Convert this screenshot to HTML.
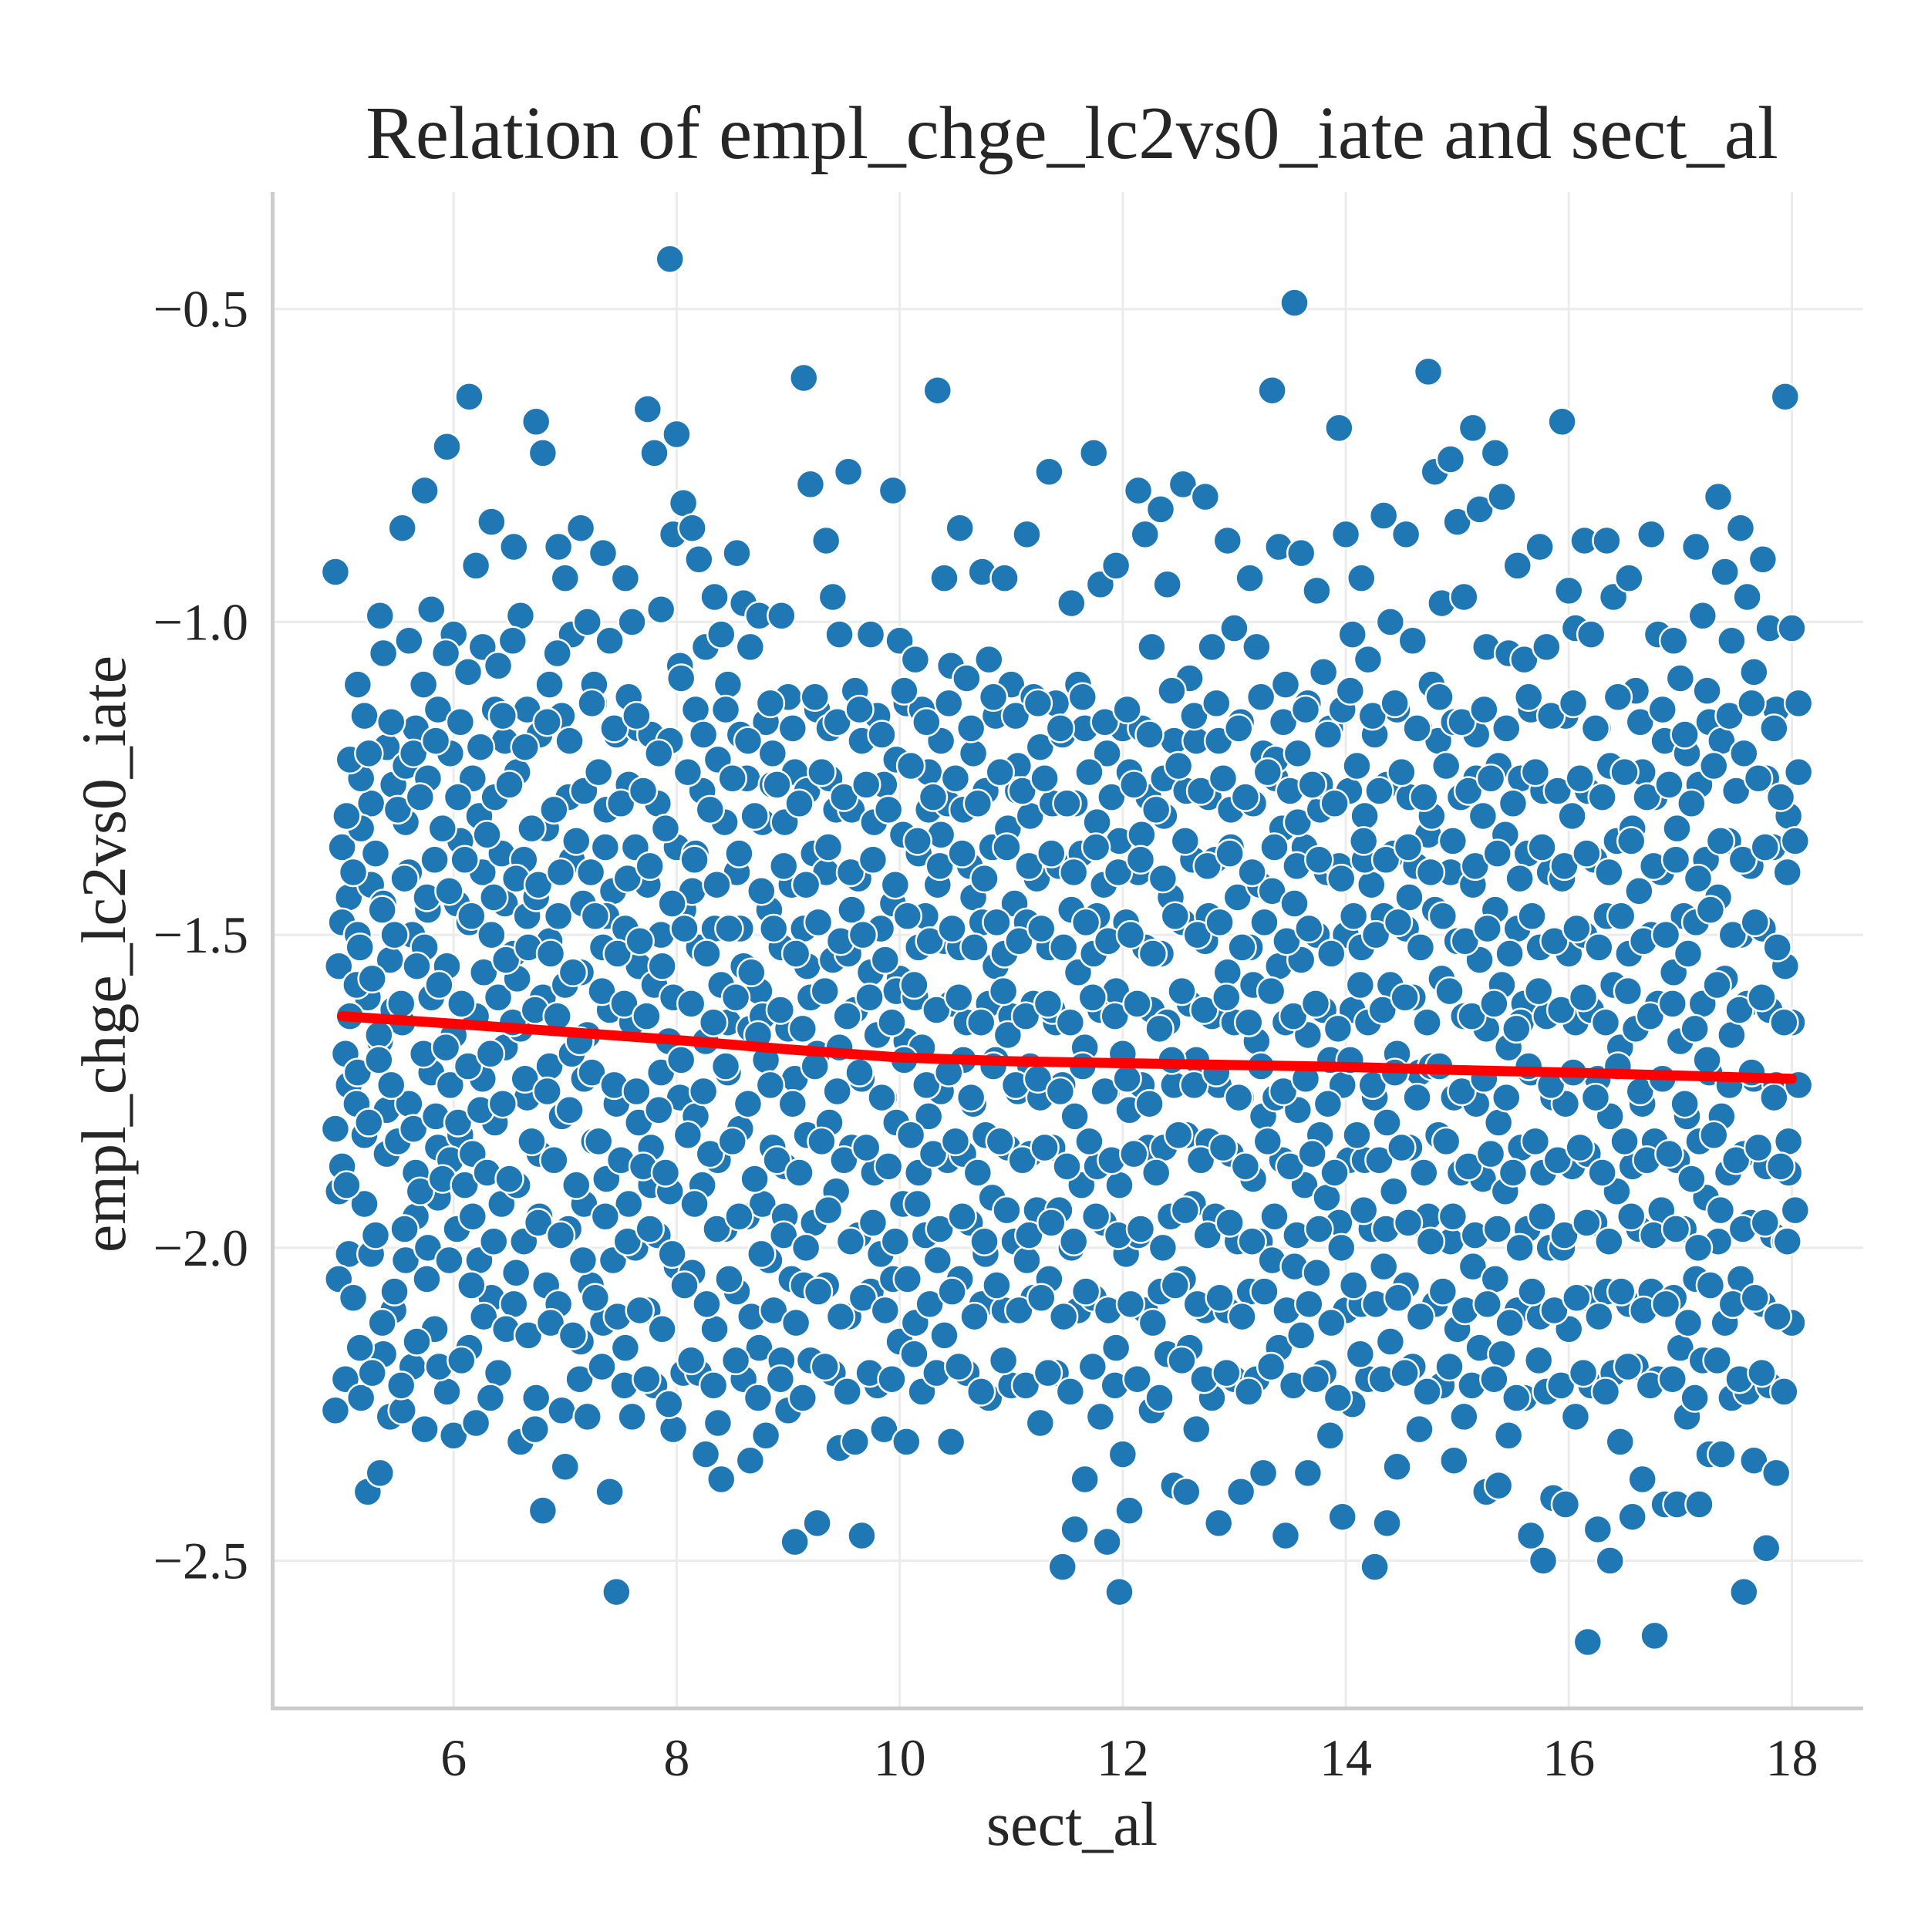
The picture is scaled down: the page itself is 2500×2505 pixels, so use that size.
<!DOCTYPE html>
<html><head><meta charset="utf-8"><style>
html,body{margin:0;padding:0;background:#fff;}
svg text{font-family:"Liberation Serif","Times New Roman",serif;fill:#262626;}
</style></head><body>
<svg id="chart" width="2500" height="2500" viewBox="0 0 2500 2500" xmlns="http://www.w3.org/2000/svg">
<rect width="2500" height="2500" fill="#fff"/>
<g id="grid"></g>
<g id="points"></g>
<g id="trend"></g>
<g id="axes"></g>
<text x="1390" y="205" font-size="97" text-anchor="middle">Relation of empl_chge_lc2vs0_iate and sect_al</text>
<text x="1390" y="2392" font-size="80" text-anchor="middle">sect_al</text>
<text x="0" y="0" font-size="82" text-anchor="middle" transform="translate(162,1237) rotate(-90)">empl_chge_lc2vs0_iate</text>
</svg>
<script>
const xTicks=[6,8,10,12,14,16,18];
const xTickLabels=["6","8","10","12","14","16","18"];
const yTicks=[-0.5,-1.0,-1.5,-2.0,-2.5];
const yTickLabels=["\u22120.5","\u22121.0","\u22121.5","\u22122.0","\u22122.5"];
const colX=[5.0,5.2,5.4,5.6,5.8,6.0,6.2,6.4,6.6,6.8,7.0,7.2,7.4,7.6,7.8,8.0,8.2,8.4,8.6,8.8,9.0,9.2,9.4,9.6,9.8,10.0,10.2,10.4,10.6,10.8,11.0,11.2,11.4,11.6,11.8,12.0,12.2,12.4,12.6,12.8,13.0,13.2,13.4,13.6,13.8,14.0,14.2,14.4,14.6,14.8,15.0,15.2,15.4,15.6,15.8,16.0,16.2,16.4,16.6,16.8,17.0,17.2,17.4,17.6,17.8,18.0];
const colY=[
[-0.92,-1.36,-1.44,-1.55,-1.69,-1.81,-1.87,-2.01,-2.05,-2.21,-2.26,-1.48,-1.74,-1.91],
[-1.10,-1.15,-1.29,-1.33,-1.60,-1.72,-1.82,-2.01,-2.24,-2.39,-1.50,-1.93,-1.42,-1.25],
[-0.99,-1.20,-1.26,-1.45,-1.54,-1.67,-1.78,-2.10,-2.17,-2.27,-2.36,-1.85,-1.62,-1.05],
[-0.85,-1.03,-1.17,-1.32,-1.50,-1.64,-1.77,-1.95,-2.02,-2.19,-2.26,-1.40,-1.88,-1.23],
[-0.79,-0.98,-1.14,-1.25,-1.38,-1.52,-1.72,-1.84,-2.00,-2.13,-2.29,-1.60,-1.92,-1.46],
[-0.72,-1.02,-1.16,-1.21,-1.45,-1.55,-1.66,-1.82,-1.86,-1.97,-2.23,-2.30,-1.35,-1.74],
[-0.64,-0.91,-1.04,-1.25,-1.31,-1.48,-1.63,-1.73,-1.85,-2.02,-2.16,-2.28,-1.40,-1.95],
[-0.84,-1.07,-1.19,-1.28,-1.37,-1.50,-1.60,-1.68,-1.80,-1.93,-2.08,-2.20,-1.45,-1.14],
[-0.88,-0.99,-1.14,-1.24,-1.38,-1.53,-1.65,-1.76,-1.90,-1.99,-2.09,-2.31,-1.47,-1.57],
[-0.68,-0.73,-1.10,-1.18,-1.33,-1.44,-1.60,-1.71,-1.85,-2.06,-2.24,-2.42,-1.51,-1.95],
[-0.88,-0.93,-1.02,-1.15,-1.28,-1.47,-1.58,-1.69,-1.79,-1.97,-2.09,-2.35,-1.38,-2.26],
[-0.85,-1.00,-1.13,-1.27,-1.40,-1.56,-1.66,-1.83,-1.93,-2.06,-2.15,-2.27,-1.10,-1.73],
[-0.89,-1.03,-1.18,-1.30,-1.43,-1.52,-1.62,-1.77,-1.89,-2.02,-2.12,-2.39,-2.55,-1.47],
[-0.93,-1.00,-1.17,-1.26,-1.36,-1.49,-1.64,-1.80,-1.93,-2.00,-2.16,-2.27,-1.55,-1.12],
[-0.66,-0.73,-0.98,-1.18,-1.29,-1.42,-1.58,-1.72,-1.84,-1.98,-2.10,-2.22,-1.50,-1.90],
[-0.42,-0.70,-0.81,-0.86,-1.07,-1.19,-1.36,-1.46,-1.60,-1.76,-1.91,-2.03,-2.20,-2.29],
[-0.85,-0.90,-1.04,-1.14,-1.27,-1.43,-1.52,-1.67,-1.79,-1.90,-2.04,-2.20,-2.33,-1.37],
[-0.96,-1.02,-1.10,-1.22,-1.32,-1.49,-1.58,-1.72,-1.86,-1.97,-2.13,-2.37,-1.64,-2.28],
[-0.89,-0.97,-1.04,-1.18,-1.25,-1.40,-1.55,-1.65,-1.81,-1.95,-2.07,-2.21,-2.34,-1.49],
[-0.99,-1.16,-1.21,-1.32,-1.46,-1.59,-1.70,-1.84,-1.93,-2.02,-2.16,-2.30,-1.26,-1.63],
[-0.99,-1.12,-1.24,-1.32,-1.42,-1.52,-1.65,-1.73,-1.87,-2.05,-2.18,-2.26,-2.47,-1.95],
[-0.61,-0.78,-1.14,-1.27,-1.37,-1.49,-1.60,-1.69,-1.82,-1.96,-2.06,-2.18,-2.44,-1.55],
[-0.87,-0.96,-1.02,-1.17,-1.30,-1.40,-1.54,-1.68,-1.80,-1.91,-2.06,-2.20,-2.32,-1.25],
[-0.76,-1.11,-1.19,-1.30,-1.41,-1.53,-1.62,-1.73,-1.84,-1.98,-2.11,-2.31,-2.46,-1.46],
[-1.02,-1.15,-1.26,-1.38,-1.49,-1.56,-1.66,-1.76,-1.88,-2.01,-2.07,-2.22,-2.29,-1.32],
[-0.79,-1.03,-1.13,-1.22,-1.34,-1.45,-1.57,-1.67,-1.80,-1.93,-2.05,-2.15,-2.31,-1.59],
[-1.06,-1.14,-1.24,-1.37,-1.47,-1.60,-1.68,-1.79,-1.88,-1.98,-2.12,-2.23,-1.30,-1.52],
[-0.63,-0.93,-1.07,-1.19,-1.29,-1.42,-1.51,-1.61,-1.75,-1.86,-2.02,-2.14,-2.31,-1.34],
[-0.85,-1.09,-1.21,-1.30,-1.39,-1.52,-1.64,-1.77,-1.85,-1.96,-2.05,-2.20,-1.44,-1.70],
[-0.92,-1.06,-1.15,-1.27,-1.36,-1.48,-1.61,-1.70,-1.82,-1.92,-2.09,-2.24,-1.55,-2.01],
[-0.93,-1.10,-1.23,-1.33,-1.45,-1.53,-1.63,-1.75,-1.84,-1.99,-2.10,-2.22,-1.27,-1.66],
[-0.86,-1.12,-1.20,-1.31,-1.41,-1.48,-1.61,-1.76,-1.85,-1.94,-2.02,-2.08,-2.28,-1.71],
[-0.76,-1.13,-1.18,-1.29,-1.39,-1.52,-1.64,-1.74,-1.84,-1.94,-2.05,-2.20,-2.51,-1.62],
[-0.97,-1.10,-1.17,-1.29,-1.37,-1.46,-1.56,-1.68,-1.79,-1.90,-2.00,-2.10,-2.37,-2.45],
[-0.73,-0.94,-1.21,-1.32,-1.42,-1.53,-1.62,-1.75,-1.87,-1.96,-2.08,-2.27,-2.47,-1.47],
[-0.91,-1.17,-1.24,-1.35,-1.48,-1.59,-1.69,-1.78,-1.90,-2.01,-2.16,-2.33,-2.42,-2.55],
[-0.79,-0.86,-1.04,-1.17,-1.28,-1.40,-1.52,-1.62,-1.74,-1.84,-1.98,-2.10,-2.26,-1.34],
[-0.82,-0.94,-1.19,-1.31,-1.44,-1.53,-1.64,-1.74,-1.84,-1.95,-2.07,-2.17,-2.38,-1.25],
[-0.78,-1.09,-1.19,-1.27,-1.38,-1.48,-1.61,-1.70,-1.82,-1.93,-2.05,-2.16,-2.29,-2.39],
[-0.80,-1.04,-1.19,-1.28,-1.38,-1.51,-1.63,-1.74,-1.83,-1.95,-2.10,-2.24,-2.44,-1.47],
[-0.87,-1.01,-1.16,-1.30,-1.44,-1.56,-1.64,-1.76,-1.85,-1.99,-2.10,-2.21,-2.39,-1.36],
[-0.93,-1.04,-1.21,-1.29,-1.42,-1.52,-1.67,-1.79,-1.89,-1.99,-2.07,-2.21,-2.36,-1.58],
[-0.63,-0.88,-1.10,-1.25,-1.33,-1.43,-1.55,-1.64,-1.76,-1.86,-2.02,-2.16,-2.46,-1.22],
[-0.49,-0.89,-1.13,-1.21,-1.36,-1.45,-1.54,-1.66,-1.78,-1.90,-2.03,-2.14,-2.36,-1.32],
[-0.95,-1.08,-1.17,-1.30,-1.40,-1.50,-1.62,-1.70,-1.82,-1.92,-2.04,-2.20,-2.30,-1.26],
[-0.69,-0.86,-1.02,-1.14,-1.27,-1.39,-1.50,-1.62,-1.74,-1.86,-1.96,-2.10,-2.25,-2.43],
[-0.93,-1.06,-1.18,-1.31,-1.42,-1.52,-1.64,-1.76,-1.86,-1.97,-2.09,-2.21,-2.51,-1.38],
[-0.83,-1.00,-1.14,-1.26,-1.37,-1.47,-1.58,-1.69,-1.80,-1.91,-2.03,-2.15,-2.35,-2.44],
[-0.86,-1.03,-1.17,-1.28,-1.39,-1.49,-1.60,-1.72,-1.84,-1.96,-2.06,-2.19,-2.29,-1.44],
[-0.60,-0.76,-0.97,-1.10,-1.19,-1.34,-1.46,-1.57,-1.71,-1.82,-1.95,-2.09,-2.22,-1.31],
[-0.74,-0.84,-0.96,-1.16,-1.28,-1.40,-1.51,-1.63,-1.76,-1.88,-1.99,-2.13,-2.27,-2.34],
[-0.69,-0.82,-1.04,-1.18,-1.31,-1.42,-1.54,-1.65,-1.77,-1.89,-2.03,-2.16,-2.39,-1.25],
[-0.73,-0.80,-1.05,-1.23,-1.34,-1.46,-1.58,-1.68,-1.80,-1.91,-2.05,-2.17,-2.30,-2.38],
[-0.91,-1.06,-1.14,-1.25,-1.37,-1.49,-1.61,-1.72,-1.84,-1.97,-2.10,-2.24,-2.46,-1.64],
[-0.88,-1.04,-1.15,-1.27,-1.40,-1.52,-1.63,-1.76,-1.88,-2.00,-2.11,-2.23,-2.40,-2.50],
[-0.68,-0.95,-1.01,-1.15,-1.31,-1.41,-1.53,-1.64,-1.77,-1.87,-2.00,-2.13,-2.27,-2.41],
[-0.87,-1.02,-1.17,-1.27,-1.38,-1.50,-1.62,-1.73,-1.85,-1.96,-2.08,-2.22,-2.45,-2.63],
[-0.87,-0.96,-1.12,-1.23,-1.35,-1.47,-1.58,-1.68,-1.79,-1.91,-2.07,-2.20,-2.31,-2.50],
[-0.93,-1.11,-1.24,-1.33,-1.43,-1.53,-1.65,-1.77,-1.87,-1.97,-2.09,-2.19,-2.37,-2.43],
[-0.86,-1.02,-1.19,-1.28,-1.40,-1.50,-1.61,-1.73,-1.83,-1.94,-2.07,-2.21,-2.41,-2.62],
[-1.03,-1.09,-1.21,-1.33,-1.47,-1.56,-1.67,-1.79,-1.86,-1.97,-2.08,-2.16,-2.27,-2.41],
[-0.88,-0.99,-1.16,-1.26,-1.38,-1.48,-1.61,-1.72,-1.83,-1.92,-2.05,-2.18,-2.33,-2.41],
[-0.80,-0.92,-1.03,-1.19,-1.35,-1.44,-1.57,-1.66,-1.79,-1.88,-1.99,-2.12,-2.24,-2.33],
[-0.85,-0.96,-1.08,-1.21,-1.39,-1.50,-1.61,-1.73,-1.85,-1.96,-2.05,-2.23,-2.34,-2.55],
[-0.90,-1.01,-1.14,-1.25,-1.36,-1.49,-1.62,-1.74,-1.87,-1.98,-2.09,-2.22,-2.36,-2.48],
[-0.64,-1.01,-1.13,-1.31,-1.35,-1.55,-1.64,-1.74,-1.83,-1.94,-1.99,-2.12,-1.24,-1.88]
];
const colX2=[5.1,5.3,5.5,5.7,5.9,6.1,6.3,6.5,6.7,6.9,7.1,7.3,7.5,7.7,7.9,8.1,8.3,8.5,8.7,8.9,9.1,9.3,9.5,9.7,9.9,10.1,10.3,10.5,10.7,10.9,11.1,11.3,11.5,11.7,11.9,12.1,12.3,12.5,12.7,12.9,13.1,13.3,13.5,13.7,13.9,14.1,14.3,14.5,14.7,14.9,15.1,15.3,15.5,15.7,15.9,16.1,16.3,16.5,16.7,16.9,17.1,17.3,17.5,17.7,17.9];
const colY2=[
[-1.31,-1.40,-1.52,-1.63,-1.77,-1.90,-2.08,-2.16,-1.22,-1.58],
[-1.21,-1.37,-1.46,-1.57,-1.66,-1.80,-1.98,-2.12,-2.20,-1.70],
[-1.16,-1.30,-1.41,-1.50,-1.61,-1.74,-1.83,-1.97,-2.07,-2.22],
[-1.21,-1.28,-1.44,-1.55,-1.69,-1.81,-1.91,-2.05,-2.15,-1.10],
[-1.19,-1.33,-1.43,-1.58,-1.68,-1.79,-1.89,-2.02,-2.19,-1.05],
[-1.28,-1.38,-1.47,-1.61,-1.71,-1.80,-1.90,-2.06,-2.18,-1.08],
[-1.20,-1.34,-1.44,-1.56,-1.69,-1.78,-1.88,-1.99,-2.11,-2.24],
[-1.15,-1.26,-1.41,-1.54,-1.64,-1.77,-1.89,-2.04,-2.13,-1.03],
[-1.20,-1.33,-1.42,-1.52,-1.62,-1.73,-1.83,-1.96,-2.14,-2.29],
[-1.16,-1.30,-1.40,-1.53,-1.63,-1.75,-1.86,-1.98,-2.12,-1.05],
[-1.19,-1.35,-1.45,-1.56,-1.67,-1.78,-1.90,-2.02,-2.14,-2.21],
[-1.13,-1.24,-1.36,-1.47,-1.59,-1.72,-1.83,-1.95,-2.08,-2.19],
[-1.17,-1.29,-1.41,-1.53,-1.61,-1.74,-1.86,-1.99,-2.11,-2.22],
[-1.15,-1.27,-1.39,-1.51,-1.63,-1.75,-1.87,-1.97,-2.10,-2.21],
[-1.21,-1.33,-1.45,-1.55,-1.67,-1.78,-1.88,-2.01,-2.13,-2.25],
[-1.09,-1.24,-1.38,-1.49,-1.61,-1.70,-1.82,-1.93,-2.06,-2.18],
[-1.18,-1.30,-1.42,-1.53,-1.64,-1.75,-1.85,-1.97,-2.09,-2.22],
[-1.14,-1.25,-1.37,-1.49,-1.60,-1.71,-1.83,-1.95,-2.05,-2.18],
[-1.19,-1.31,-1.43,-1.56,-1.66,-1.77,-1.89,-2.01,-2.11,-2.24],
[-1.13,-1.26,-1.39,-1.49,-1.62,-1.74,-1.86,-1.98,-2.10,-2.21],
[-1.17,-1.29,-1.42,-1.53,-1.65,-1.77,-1.88,-2.00,-2.12,-2.24],
[-1.12,-1.24,-1.36,-1.48,-1.59,-1.71,-1.83,-1.94,-2.07,-2.19],
[-1.16,-1.28,-1.40,-1.51,-1.63,-1.75,-1.86,-1.99,-2.11,-2.23],
[-1.14,-1.26,-1.38,-1.50,-1.60,-1.72,-1.84,-1.96,-2.08,-2.20],
[-1.18,-1.30,-1.42,-1.54,-1.64,-1.76,-1.87,-1.99,-2.10,-2.21],
[-1.11,-1.23,-1.35,-1.47,-1.58,-1.70,-1.82,-1.93,-2.05,-2.17],
[-1.16,-1.28,-1.39,-1.51,-1.62,-1.74,-1.85,-1.97,-2.09,-2.20],
[-1.13,-1.25,-1.37,-1.49,-1.60,-1.72,-1.83,-1.95,-2.07,-2.19],
[-1.17,-1.29,-1.41,-1.52,-1.64,-1.76,-1.88,-1.99,-2.11,-2.23],
[-1.12,-1.24,-1.36,-1.48,-1.59,-1.71,-1.83,-1.94,-2.06,-2.18],
[-1.15,-1.27,-1.39,-1.51,-1.63,-1.74,-1.86,-1.98,-2.10,-2.22],
[-1.13,-1.25,-1.37,-1.49,-1.61,-1.73,-1.84,-1.96,-2.08,-2.20],
[-1.17,-1.29,-1.40,-1.52,-1.64,-1.75,-1.87,-1.99,-2.11,-2.23],
[-1.12,-1.24,-1.36,-1.48,-1.60,-1.71,-1.83,-1.95,-2.07,-2.19],
[-1.16,-1.28,-1.40,-1.51,-1.63,-1.75,-1.86,-1.98,-2.10,-2.22],
[-1.14,-1.26,-1.38,-1.50,-1.61,-1.73,-1.85,-1.97,-2.09,-2.21],
[-1.18,-1.30,-1.41,-1.53,-1.65,-1.77,-1.88,-2.00,-2.12,-2.24],
[-1.11,-1.23,-1.35,-1.47,-1.59,-1.70,-1.82,-1.94,-2.06,-2.18],
[-1.15,-1.27,-1.39,-1.50,-1.62,-1.74,-1.86,-1.98,-2.09,-2.21],
[-1.13,-1.25,-1.37,-1.48,-1.60,-1.72,-1.84,-1.96,-2.08,-2.20],
[-1.17,-1.28,-1.40,-1.52,-1.64,-1.76,-1.87,-1.99,-2.11,-2.23],
[-1.12,-1.24,-1.36,-1.48,-1.59,-1.71,-1.83,-1.95,-2.07,-2.19],
[-1.16,-1.27,-1.39,-1.51,-1.63,-1.75,-1.87,-1.98,-2.10,-2.22],
[-1.14,-1.26,-1.38,-1.49,-1.61,-1.73,-1.85,-1.97,-2.09,-2.21],
[-1.18,-1.29,-1.41,-1.53,-1.65,-1.77,-1.88,-2.00,-2.12,-2.24],
[-1.11,-1.23,-1.35,-1.47,-1.58,-1.70,-1.82,-1.94,-2.06,-2.17],
[-1.15,-1.27,-1.38,-1.50,-1.62,-1.74,-1.86,-1.97,-2.09,-2.21],
[-1.13,-1.24,-1.36,-1.48,-1.60,-1.72,-1.84,-1.96,-2.08,-2.20],
[-1.17,-1.28,-1.40,-1.52,-1.64,-1.76,-1.88,-1.99,-2.11,-2.23],
[-1.12,-1.23,-1.35,-1.47,-1.59,-1.71,-1.83,-1.95,-2.07,-2.19],
[-1.16,-1.27,-1.39,-1.51,-1.63,-1.75,-1.87,-1.98,-2.10,-2.22],
[-1.14,-1.25,-1.37,-1.49,-1.61,-1.73,-1.85,-1.97,-2.09,-2.21],
[-1.17,-1.29,-1.41,-1.53,-1.65,-1.76,-1.88,-2.00,-2.12,-2.24],
[-1.12,-1.24,-1.36,-1.47,-1.59,-1.71,-1.83,-1.95,-2.07,-2.18],
[-1.15,-1.27,-1.39,-1.51,-1.62,-1.74,-1.86,-1.98,-2.10,-2.22],
[-1.13,-1.25,-1.37,-1.49,-1.60,-1.72,-1.84,-1.96,-2.08,-2.20],
[-1.17,-1.28,-1.40,-1.52,-1.64,-1.76,-1.88,-1.99,-2.11,-2.23],
[-1.12,-1.24,-1.35,-1.47,-1.59,-1.71,-1.83,-1.95,-2.07,-2.19],
[-1.16,-1.28,-1.39,-1.51,-1.63,-1.75,-1.86,-1.98,-2.10,-2.22],
[-1.14,-1.26,-1.38,-1.50,-1.61,-1.73,-1.85,-1.97,-2.09,-2.21],
[-1.18,-1.29,-1.41,-1.53,-1.65,-1.77,-1.89,-2.00,-2.12,-2.24],
[-1.11,-1.23,-1.35,-1.46,-1.58,-1.70,-1.82,-1.94,-2.06,-2.18],
[-1.15,-1.27,-1.38,-1.50,-1.62,-1.74,-1.86,-1.97,-2.09,-2.21],
[-1.13,-1.25,-1.36,-1.48,-1.60,-1.72,-1.84,-1.96,-2.08,-2.20],
[-1.17,-1.28,-1.40,-1.52,-1.64,-1.76,-1.87,-1.99,-2.11,-2.23]
];
const trendX=[5,6,7,8,9,10,11,12,13,14,15,16,17,18];
const trendY=[-1.63,-1.642,-1.655,-1.668,-1.683,-1.696,-1.702,-1.705,-1.708,-1.711,-1.716,-1.72,-1.725,-1.73];

const L=353.5,R=2416,T=249,B=2215;
const xMin=4.377,xMax=18.64,yMin=-2.736,yMax=-0.313;
const sx=v=>L+(v-xMin)/(xMax-xMin)*(R-L);
const sy=v=>B-(v-yMin)/(yMax-yMin)*(B-T);
const NS='http://www.w3.org/2000/svg';
function mk(tag,attrs,parent){const e=document.createElementNS(NS,tag);for(const k in attrs)e.setAttribute(k,attrs[k]);parent.appendChild(e);return e;}
const grid=document.getElementById('grid'),pts=document.getElementById('points'),axes=document.getElementById('axes'),trend=document.getElementById('trend');
xTicks.forEach((t,i)=>{
  const g=mk('line',{x1:sx(t),x2:sx(t),y1:T,y2:B,stroke:'#ebebeb','stroke-width':3},grid);
  
  
  const tx=mk('text',{x:sx(t),y:2302,'font-size':68,'text-anchor':'middle'},axes);
  tx.textContent=xTickLabels[i];
  
  
});
yTicks.forEach((t,i)=>{
  const g=mk('line',{x1:L,x2:R,y1:sy(t),y2:sy(t),stroke:'#ebebeb','stroke-width':3},grid);
  
  
  const tx=mk('text',{x:322,y:sy(t)+23,'font-size':68,'text-anchor':'end'},axes);
  tx.textContent=yTickLabels[i];
  
  
});
function drawCols(xs,ys){
  xs.forEach((x,i)=>{
    ys[i].forEach((y,j)=>{
      const c=mk('circle',{cx:sx(x+((j*7)%5-2)*0.03),cy:sy(y),r:18,fill:'#1f77b4',stroke:'#fff','stroke-width':2.5},pts);
      
      
    });
  });
}
drawCols(colX,colY);
drawCols(colX2,colY2);
const tp=mk('polyline',{points:trendX.map((x,i)=>sx(x)+','+sy(trendY[i])).join(' '),fill:'none',stroke:'#ff0000','stroke-width':13,'stroke-linecap':'round'},trend);


const ls=mk('line',{x1:L,x2:L,y1:T,y2:B+2,stroke:'#cccccc','stroke-width':5},axes);


const bs=mk('line',{x1:L-2,x2:R,y1:B,y2:B,stroke:'#cccccc','stroke-width':5},axes);


</script>
</body></html>
